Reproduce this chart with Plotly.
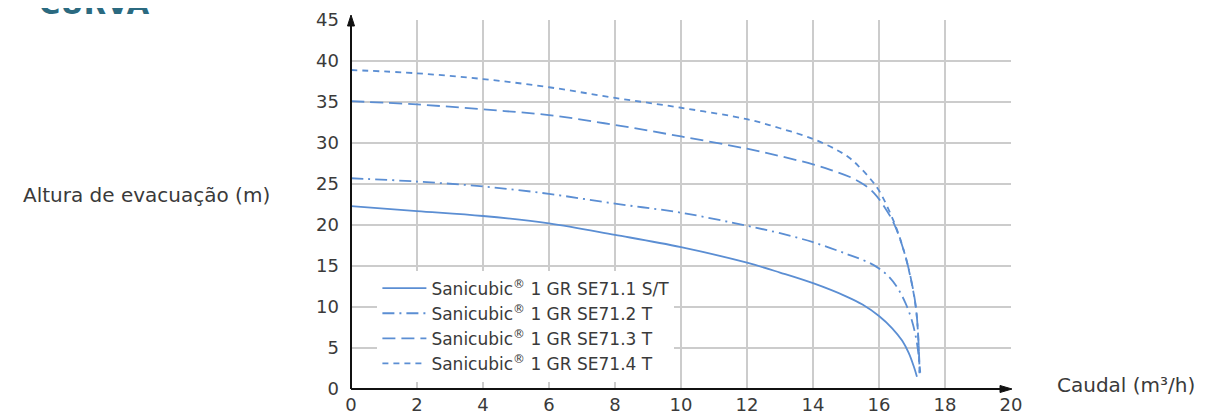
import plotly.graph_objects as go

# ---- data ----
series_names = [
    "Sanicubic<sup>®</sup> 1 GR SE71.1 S/T",
    "Sanicubic<sup>®</sup> 1 GR SE71.2 T",
    "Sanicubic<sup>®</sup> 1 GR SE71.3 T",
    "Sanicubic<sup>®</sup> 1 GR SE71.4 T",
]

x_s1 = [0, 2, 4, 6, 8, 10, 12, 13, 14, 15, 15.5, 16, 16.4, 16.7, 16.9, 17.05, 17.15]
y_s1 = [22.3, 21.7, 21.1, 20.2, 18.8, 17.3, 15.4, 14.2, 12.9, 11.3, 10.3, 8.9, 7.4, 5.9, 4.4, 2.8, 1.5]

x_s2 = [0, 2, 4, 6, 8, 10, 12, 13, 14, 15, 15.7, 16, 16.3, 16.55, 16.8, 17.0, 17.15, 17.25]
y_s2 = [25.7, 25.3, 24.7, 23.8, 22.6, 21.5, 19.9, 19.0, 17.9, 16.5, 15.4, 14.7, 13.7, 12.4, 10.5, 8.3, 5.6, 2.0]

x_s3 = [0, 2, 4, 6, 8, 10, 12, 13, 14, 14.55, 15.15, 15.55, 15.85, 16.15, 16.45, 16.75, 16.97, 17.12, 17.2, 17.23]
y_s3 = [35.1, 34.7, 34.1, 33.4, 32.2, 30.8, 29.3, 28.4, 27.4, 26.7, 25.8, 24.9, 23.9, 22.3, 20.2, 16.9, 13.4, 9.9, 5.5, 2.0]

x_s4 = [0, 2, 4, 6, 8, 10, 12, 13, 14, 14.7, 15.1, 15.4, 15.7, 16.0, 16.45, 16.75, 16.97, 17.12, 17.2, 17.23]
y_s4 = [38.9, 38.5, 37.8, 36.8, 35.5, 34.3, 32.9, 31.8, 30.5, 29.2, 28.2, 27.1, 25.8, 24.2, 20.4, 16.9, 13.3, 9.8, 5.5, 1.5]

x_ticks = [0, 2, 4, 6, 8, 10, 12, 14, 16, 18, 20]
y_ticks = [0, 5, 10, 15, 20, 25, 30, 35, 40, 45]

xs = [x_s1, x_s2, x_s3, x_s4]
ys = [y_s1, y_s2, y_s3, y_s4]
dashes = ["solid", "12px,5px,2px,5px", "13px,6px", "6px,5px"]

BLUE = "#5b8ed3"
FONT = "DejaVu Sans"
TXT = "#3a3a3a"
AXIS = "#111111"

fig = go.Figure()
for name, x, y, d in zip(series_names, xs, ys, dashes):
    fig.add_trace(go.Scatter(
        x=x, y=y, name=name, mode="lines",
        line=dict(color=BLUE, width=1.8, dash=d, shape="spline", smoothing=1.0),
    ))

fig.update_layout(
    width=1230, height=416,
    margin=dict(l=343, r=227, t=12, b=35, autoexpand=False),
    paper_bgcolor="white", plot_bgcolor="white",
    font=dict(family=FONT, color=TXT),
    showlegend=True,
    legend=dict(
        x=0.04, y=0.02, xanchor="left", yanchor="bottom",
        bgcolor="white", borderwidth=0,
        font=dict(size=17, color=TXT, family=FONT),
        itemwidth=44,
    ),
)

fig.update_xaxes(
    range=[0, 20], tickvals=x_ticks, showgrid=True, automargin=False,
    gridcolor="#cccccc", gridwidth=1.5, zeroline=False, showline=False,
    tickfont=dict(size=18, color=TXT), ticks="", ticklabelstandoff=3,
    fixedrange=True,
)
fig.update_yaxes(
    range=[0, 45], tickvals=y_ticks, showgrid=True, automargin=False,
    gridcolor="#cccccc", gridwidth=1.5, zeroline=False, showline=False,
    tickfont=dict(size=18, color=TXT), ticks="", ticklabelstandoff=11,
    fixedrange=True,
)

# axis lines with arrowheads (paper-referenced so they are not clipped)
fig.add_shape(type="line", xref="paper", yref="paper", x0=0, y0=0, x1=0.995, y1=0,
              line=dict(color=AXIS, width=2), layer="above")
fig.add_shape(type="line", xref="paper", yref="paper", x0=0, y0=0, x1=0, y1=1.0,
              line=dict(color=AXIS, width=2), layer="above")
fig.add_shape(type="path", xref="paper", yref="paper", xsizemode="pixel", ysizemode="pixel",
              xanchor=1.0, yanchor=0, path="M-11,-3.5 L1,0 L-11,3.5 Z",
              fillcolor=AXIS, line=dict(color=AXIS, width=1), layer="above")
fig.add_shape(type="path", xref="paper", yref="paper", xsizemode="pixel", ysizemode="pixel",
              xanchor=0, yanchor=1.0, path="M-3.5,-6 L0,5 L3.5,-6 Z",
              fillcolor=AXIS, line=dict(color=AXIS, width=1), layer="above")

# titles
fig.add_annotation(text="Altura de evacuação (m)", xref="paper", yref="paper",
                   x=-0.1197, y=0.526, xanchor="right", yanchor="middle", showarrow=False,
                   font=dict(size=20, color=TXT, family=FONT))
fig.add_annotation(text="Caudal (m³/h)", xref="paper", yref="paper",
                   x=1.0667, y=0.0108, xanchor="left", yanchor="middle", showarrow=False,
                   font=dict(size=20, color=TXT, family=FONT))
fig.add_annotation(text="<b>CURVA</b>", xref="paper", yref="paper",
                   x=-0.476, y=0.992, xanchor="left", yanchor="bottom", showarrow=False,
                   font=dict(size=29, color="#2b6a80", family=FONT))

fig.write_html("out.html")
